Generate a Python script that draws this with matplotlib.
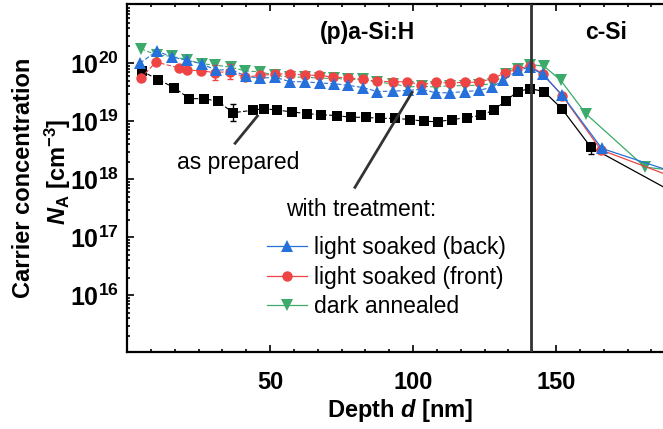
import numpy as np
import matplotlib
matplotlib.use('Agg')
import matplotlib.pyplot as plt
from matplotlib.lines import Line2D
from matplotlib.ticker import MultipleLocator, LogLocator, FuncFormatter, NullFormatter

plt.rcParams['font.family'] = ['Liberation Sans', 'DejaVu Sans']
plt.rcParams['mathtext.fontset'] = 'custom'
plt.rcParams['mathtext.rm'] = 'Liberation Sans:bold'
plt.rcParams['mathtext.bf'] = 'Liberation Sans:bold'
plt.rcParams['mathtext.it'] = 'Liberation Sans:italic:bold'

# depth profiles, N_A in cm^-3
depth_prep = [5.1, 10.9, 16.5, 21.8, 26.9, 31.9, 37.0, 44.2, 47.9, 52.6, 57.8, 62.8,
              67.8, 73.3, 78.3, 83.4, 88.5, 93.7, 99.0, 103.8, 108.6, 113.7, 118.8,
              123.6, 128.2, 132.4, 136.6, 140.9, 145.8, 152.0, 162.2, 200.0]
na_prep = [7.4e19, 5.2e19, 3.8e19, 2.45e19, 2.45e19, 2.2e19, 1.4e19, 1.55e19, 1.65e19,
           1.55e19, 1.45e19, 1.35e19, 1.3e19, 1.25e19, 1.17e19, 1.17e19, 1.12e19,
           1.12e19, 1.07e19, 1.0e19, 0.98e19, 1.07e19, 1.15e19, 1.26e19, 1.55e19,
           2.25e19, 3.25e19, 3.65e19, 3.25e19, 1.65e19, 3.55e18, 3.4e17]

depth_back = [4.5, 10.4, 15.6, 20.9, 26.1, 31.1, 36.4, 41.5, 46.5, 51.7, 57.0, 62.2,
              67.5, 72.4, 77.4, 82.6, 87.5, 92.9, 98.1, 103.0, 107.9, 112.9, 118.2,
              123.2, 127.7, 131.6, 136.6, 140.9, 145.3, 152.2, 166.0, 200.0]
na_back = [1.0e20, 1.62e20, 1.29e20, 1.12e20, 9.8e19, 7.6e19, 7.8e19, 6.0e19, 5.5e19,
           5.75e19, 4.8e19, 4.8e19, 4.55e19, 4.45e19, 4.15e19, 3.8e19, 3.25e19, 3.3e19,
           3.4e19, 3.55e19, 3.1e19, 3.1e19, 3.25e19, 3.4e19, 3.9e19, 5.1e19, 7.6e19,
           8.5e19, 6.45e19, 2.8e19, 3.4e18, 9.5e17]

depth_front = [4.8, 10.1, 18.2, 20.9, 25.8, 30.8, 36.0, 41.3, 46.5, 51.7, 57.0, 62.2,
               67.2, 72.1, 77.4, 82.6, 87.5, 92.9, 98.0, 102.8, 108.0, 112.9, 118.2,
               123.2, 127.9, 132.2, 136.5, 140.9, 145.3, 152.2, 165.7, 200.0]
na_front = [5.5e19, 1.05e20, 8.3e19, 7.6e19, 7.4e19, 6.9e19, 7.2e19, 5.75e19, 6.2e19,
            6.45e19, 6.6e19, 6.2e19, 6.2e19, 5.75e19, 5.6e19, 5.25e19, 4.9e19, 4.8e19,
            4.8e19, 4.25e19, 4.7e19, 4.55e19, 4.7e19, 4.7e19, 5.5e19, 6.75e19, 8.1e19,
            8.9e19, 6.6e19, 2.75e19, 3.2e18, 7.4e17]

depth_dark = [4.9, 10.4, 15.6, 20.9, 26.1, 30.8, 36.4, 41.3, 46.5, 51.7, 57.0, 62.2,
              67.5, 72.4, 77.4, 82.6, 87.5, 92.9, 98.1, 103.0, 107.9, 112.9, 118.2,
              123.2, 127.9, 132.4, 136.6, 140.9, 145.8, 151.6, 160.4, 181.1, 200.0]
na_dark = [1.78e20, 1.38e20, 1.32e20, 1.15e20, 9.8e19, 9.3e19, 8.5e19, 7.4e19, 7.1e19,
           6.2e19, 5.75e19, 5.75e19, 5.5e19, 5.5e19, 5.25e19, 5.25e19, 4.7e19, 4.45e19,
           3.9e19, 4.0e19, 3.9e19, 4.1e19, 4.1e19, 4.2e19, 4.45e19, 6.45e19, 8.1e19,
           9.5e19, 8.9e19, 5.1e19, 1.35e19, 1.62e18, 1.25e18]

# error bars (lower / upper limits)
prep_err_depth = [37.0, 162.2]
prep_err_lo = [1.0e19, 2.7e18]
prep_err_hi = [1.95e19, 4.2e18]
front_err_depth = [30.8, 36.0]
front_err_lo = [5.1e19, 5.3e19]
front_err_hi = [9.3e19, 9.8e19]

interface = 141.3

c_prep = 'black'
c_back = '#2670DB'
c_front = '#EE4444'
c_dark = '#3BAA6A'

fig = plt.figure(figsize=(6.63, 4.29), dpi=100)
ax = fig.add_axes([127 / 663, 1 - 352 / 429, 536 / 663, 348 / 429])


def profile(x, y, color, marker, ms, z):
    x = np.array(x)
    y = np.array(y)
    a = x <= interface
    b = x >= 140.0
    ax.plot(x[a], y[a], color=color, lw=0.8, ls=(0, (4, 2)), zorder=z)
    ax.plot(x[b], y[b], color=color, lw=0.9, ls='-', zorder=z)
    ax.plot(x, y, ls='none', marker=marker, ms=ms, color=color,
            markeredgewidth=0, zorder=z + 0.5)


def errs(x, y, ed, lo, hi, color, z):
    c = np.array([y[x.index(d)] for d in ed])
    ax.errorbar(ed, c, yerr=[c - np.array(lo), np.array(hi) - c], fmt='none',
                ecolor=color, elinewidth=1.0, capsize=2, capthick=1.0, zorder=z)


profile(depth_prep, na_prep, c_prep, 's', 6.5, 3)
profile(depth_dark, na_dark, c_dark, 'v', 8.5, 4)
profile(depth_front, na_front, c_front, 'o', 7.5, 5)
profile(depth_back, na_back, c_back, '^', 8.5, 6)
errs(depth_prep, na_prep, prep_err_depth, prep_err_lo, prep_err_hi, c_prep, 3.2)
errs(depth_front, na_front, front_err_depth, front_err_lo, front_err_hi, c_front, 5.2)

ax.axvline(interface, color='#333333', lw=2, zorder=7)

ax.set_yscale('log')
ax.set_xlim(0, 187.4)
ax.set_ylim(1.05e15, 1.05e21)

ax.set_xticks([50, 100, 150])
ax.xaxis.set_minor_locator(MultipleLocator(50 / 6))
ax.yaxis.set_major_locator(LogLocator(base=10, numticks=10))
ax.yaxis.set_minor_locator(LogLocator(base=10, subs=np.arange(2, 10), numticks=20))
ax.yaxis.set_major_formatter(FuncFormatter(lambda v, p: r'$10^{%d}$' % round(np.log10(v))))
ax.yaxis.set_minor_formatter(NullFormatter())
ax.set_yticks([1e16, 1e17, 1e18, 1e19, 1e20])

ax.tick_params(which='both', direction='in', top=True, right=False, width=1.2)
ax.tick_params(which='major', length=5)
ax.tick_params(which='minor', length=2.5)
ax.tick_params(axis='x', pad=14, labelsize=17)
ax.tick_params(axis='y', pad=6, labelsize=18)
for lab in ax.get_xticklabels():
    lab.set_fontweight('bold')

for s in ['left', 'bottom', 'top']:
    ax.spines[s].set_linewidth(1.6)
ax.spines['right'].set_visible(False)

ax.text(0.448, 0.917, '(p)a-Si:H', transform=ax.transAxes, ha='center', va='center',
        fontsize=16.5, fontweight='bold')
ax.text(0.894, 0.917, 'c-Si', transform=ax.transAxes, ha='center', va='center',
        fontsize=16.5, fontweight='bold')

ax.text(38.8, 1.95e18, 'as prepared', ha='center', va='center', fontsize=16.5)
ax.plot([37.8, 45.6], [10 ** 18.62, 10 ** 19.09], color='#333333', lw=2, zorder=8)
ax.text(81.8, 10 ** 17.47, 'with treatment:', ha='center', va='center', fontsize=16.5)
ax.plot([79.7, 99.7], [10 ** 17.86, 10 ** 19.5], color='#333333', lw=2, zorder=8)

handles = [Line2D([], [], color=c_back, marker='^', ms=8.5, mew=0, lw=0.9),
           Line2D([], [], color=c_front, marker='o', ms=7.5, mew=0, lw=0.9),
           Line2D([], [], color=c_dark, marker='v', ms=8.5, mew=0, lw=0.9)]
ax.legend(handles, ['light soaked (back)', 'light soaked (front)', 'dark annealed'],
          loc='upper left', bbox_to_anchor=((267 - 127) / 536, 0.333), frameon=False,
          fontsize=16.5, borderpad=0, borderaxespad=0, handlelength=1.75,
          handletextpad=0.3, labelspacing=0.28)

fig.text(24 / 663, 1 - 178 / 429, 'Carrier concentration', rotation=90, ha='center',
         va='center', fontsize=17, fontweight='bold')
fig.text(58 / 663, 1 - 172 / 429, r'$N_{\mathrm{A}}$ [cm$^{-3}$]', rotation=90,
         ha='center', va='center', fontsize=17, fontweight='bold')
fig.text(400 / 663, 1 - 410 / 429, r'Depth $d$ [nm]', ha='center', va='center',
         fontsize=17, fontweight='bold')

fig.savefig('out.png', dpi=100)
